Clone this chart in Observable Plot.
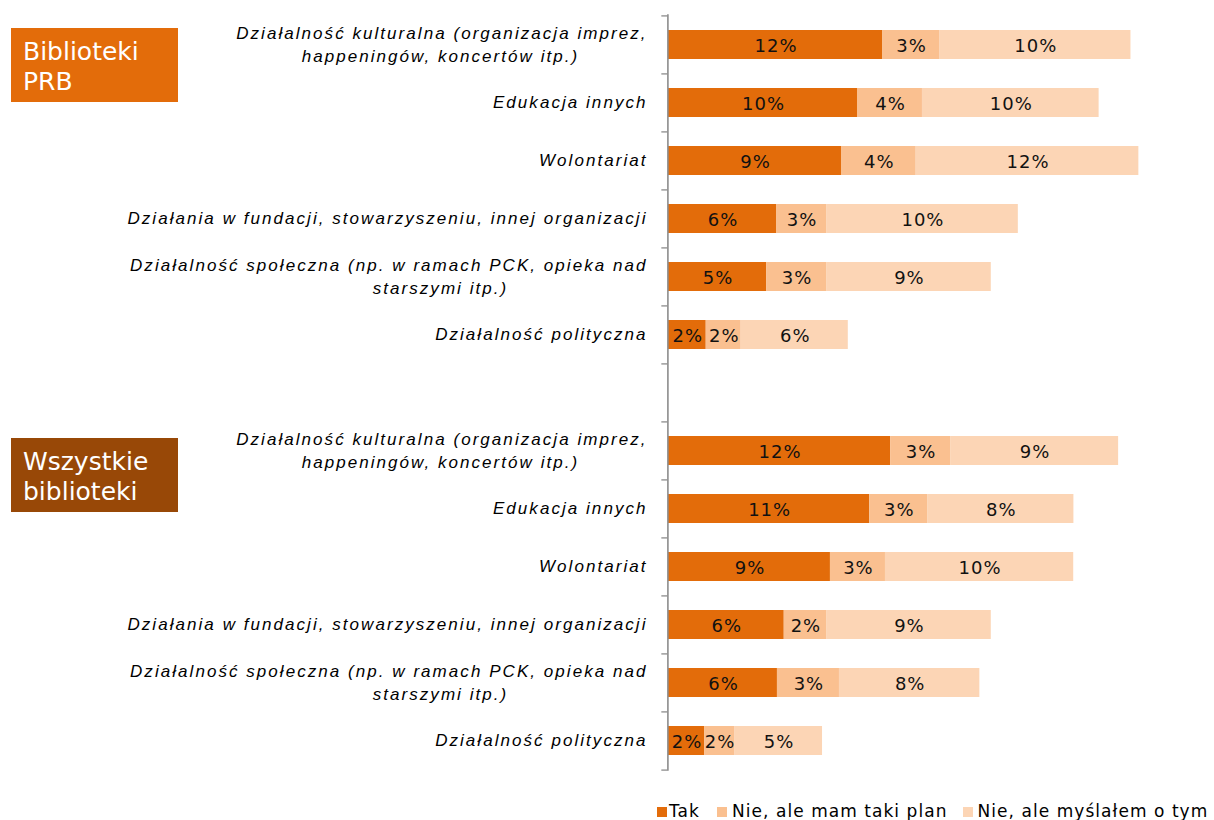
<!DOCTYPE html>
<html>
<head>
<meta charset="utf-8">
<script src="https://cdn.jsdelivr.net/npm/d3@7"></script>
<script src="https://cdn.jsdelivr.net/npm/@observablehq/plot@0.6"></script>
<style>
  html, body { margin: 0; padding: 0; background: #fff; }
  #wrap { position: relative; width: 1214px; height: 820px; overflow: hidden; }
  .box { position: absolute; left: 11px; width: 155px; height: 65px; padding: 9px 0 0 12px;
         color: #fff; font-family: "DejaVu Sans", sans-serif; font-size: 25px; line-height: 30px; }
  #legend { position: absolute; left: 657px; top: 801px; font-family: "DejaVu Sans", sans-serif;
            font-size: 17px; line-height: 20px; letter-spacing: 1.05px; color: #000; white-space: nowrap; }
  #legend .sw { display: inline-block; width: 10px; height: 10px; margin-right: 5px; }
  #legend .item { display: inline-block; margin-right: 15px; }
  #legend .item:first-child { margin-right: 17px; }
  #legend .item:first-child .sw { margin-right: 2px; }
</style>
</head>
<body>
<div id="wrap">
  <div id="chart"></div>
  <div id="boxes"></div>
  <div id="legend"></div>
</div>
<script>
// ---- data ----
const groups = ["Biblioteki PRB", "Wszystkie biblioteki"];
const groupColors = ["#E36C0A", "#984807"];
const categories = [
  "Działalność kulturalna (organizacja imprez, happeningów, koncertów itp.)",
  "Edukacja innych",
  "Wolontariat",
  "Działania w fundacji, stowarzyszeniu, innej organizacji",
  "Działalność społeczna (np. w ramach PCK, opieka nad starszymi itp.)",
  "Działalność polityczna"
];
const categoryLines = [
  ["Działalność kulturalna (organizacja imprez,", "happeningów, koncertów itp.)"],
  ["Edukacja innych"],
  ["Wolontariat"],
  ["Działania w fundacji, stowarzyszeniu, innej organizacji"],
  ["Działalność społeczna (np. w ramach PCK, opieka nad", "starszymi itp.)"],
  ["Działalność polityczna"]
];
const series = ["Tak", "Nie, ale mam taki plan", "Nie, ale myślałem o tym"];
const seriesColors = ["#E36C0A", "#FAC090", "#FCD5B5"];

const prbTak      = [11.63, 10.27, 9.40, 5.87, 5.33, 2.05];
const prbPlan     = [3.10, 3.53, 4.06, 2.72, 3.26, 1.90];
const prbThought  = [10.40, 9.60, 12.10, 10.42, 8.95, 5.82];
const allTak      = [12.07, 10.94, 8.80, 6.29, 5.92, 1.96];
const allPlan     = [3.26, 3.14, 2.99, 2.30, 3.37, 1.63];
const allThought  = [9.13, 7.95, 10.23, 8.95, 7.63, 4.78];

const groupValues = [[prbTak, prbPlan, prbThought], [allTak, allPlan, allThought]];

// ---- build table ----
const key = (g, i) => g + "|" + i;
const gapKey = "gap";
const yDomain = [
  ...categories.map((c, i) => key(0, i)),
  gapKey,
  ...categories.map((c, i) => key(1, i))
];
const rows = [];
groupValues.forEach((vals, g) => {
  categories.forEach((c, i) => {
    series.forEach((s, k) => {
      rows.push({key: key(g, i), category: c, series: s, value: vals[k][i]});
    });
  });
});
const labelsFirst = [], labelsSecond = [], labelsSingle = [];
[0, 1].forEach(g => categoryLines.forEach((lines, i) => {
  if (lines.length === 1) labelsSingle.push({key: key(g, i), text: lines[0]});
  else {
    labelsFirst.push({key: key(g, i), text: lines[0]});
    labelsSecond.push({key: key(g, i), text: lines[1]});
  }
}));
const lastKey = yDomain[yDomain.length - 1];

const step = (770.8 - 14.3) / yDomain.length;
const labelFont = {fontFamily: "Liberation Sans, Arial, sans-serif", fontStyle: "italic", fontSize: 17, fill: "#000"};

const chart = Plot.plot({
  width: 1214,
  height: 790,
  marginLeft: 668,
  marginRight: 0,
  marginTop: 14.3,
  marginBottom: 19.2,
  x: {domain: [0, 29.67], axis: null},
  y: {domain: yDomain, axis: null, paddingInner: 0.5, paddingOuter: 0.25},
  color: {domain: series, range: seriesColors},
  marks: [
    Plot.barX(rows, Plot.stackX({y: "key", x: "value", fill: "series", z: "series", order: series})),
    Plot.text(rows, Plot.stackX({
      y: "key", x: "value", z: "series", order: series,
      text: d => Math.round(d.value) + "%",
      fontFamily: "DejaVu Sans, sans-serif", fontSize: 18, fill: "#111", dy: 1, dx: 0.5
    })),
    // axis line and boundary ticks
    Plot.ruleX([0], {stroke: "#8c8c8c", strokeWidth: 1.6, dx: -0.6}),
    Plot.ruleY(yDomain, {y: d => d, x1: -0.33, x2: 0, dy: -step / 2, dx: -0.6, stroke: "#8c8c8c", strokeWidth: 1.3}),
    Plot.ruleY([lastKey], {y: d => d, x1: -0.33, x2: 0, dy: step / 2, dx: -0.6, stroke: "#8c8c8c", strokeWidth: 1.3}),
    // category labels
    Plot.text(labelsSingle, {y: "key", text: "text", frameAnchor: "left", textAnchor: "end", dx: -21, ...labelFont}),
    Plot.text(labelsFirst, {y: "key", text: "text", frameAnchor: "left", textAnchor: "end", dx: -21, dy: -11, ...labelFont}),
    Plot.text(labelsSecond, {y: "key", text: "text", frameAnchor: "left", textAnchor: "middle", dx: -228, dy: 12, ...labelFont})
  ]
});
chart.querySelectorAll("text").forEach(t => {
  const g = t.closest("[font-style]");
  if (g && g.getAttribute("font-style") === "italic") t.style.letterSpacing = "2.05px";
  else t.style.letterSpacing = "1px";
});
document.getElementById("chart").appendChild(chart);

// group boxes
const boxTops = [28, 438];
groups.forEach((g, i) => {
  const d = document.createElement("div");
  d.className = "box";
  d.style.top = boxTops[i] + "px";
  d.style.background = groupColors[i];
  const words = g.split(" ");
  d.innerHTML = words[0] + "<br>" + words.slice(1).join(" ");
  document.getElementById("boxes").appendChild(d);
});

// legend
const leg = document.getElementById("legend");
series.forEach((s, i) => {
  const it = document.createElement("span");
  it.className = "item";
  it.innerHTML = `<span class="sw" style="background:${seriesColors[i]}"></span>${s}`;
  leg.appendChild(it);
});
</script>
</body>
</html>
